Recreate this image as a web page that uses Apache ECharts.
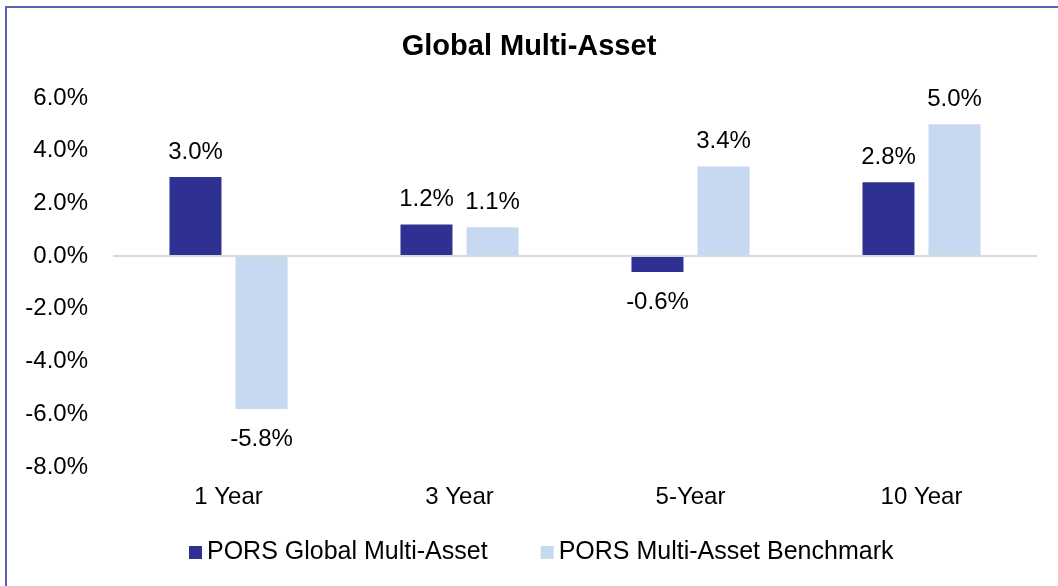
<!DOCTYPE html>
<html>
<head>
<meta charset="utf-8">
<script src="https://cdn.jsdelivr.net/npm/echarts@6/dist/echarts.min.js"></script>
<style>
  html, body { margin: 0; padding: 0; background: #fff; overflow: hidden; }
  #frame { position: absolute; left: 5px; top: 6px; width: 1100px; height: 640px;
           border-left: 2px solid #5b62b3; border-top: 2px solid #5b62b3; }
  #main { position: absolute; left: 0; top: 0; width: 1058px; height: 586px; }
</style>
</head>
<body>
<div id="frame"></div>
<div id="main"></div>
<script>
// chart data
var categories = ['1 Year', '3 Year', '5-Year', '10 Year'];
var porsGlobal = [3.0, 1.2, -0.6, 2.8];
var benchmark = [-5.8, 1.1, 3.4, 5.0];
var seriesNames = ['PORS Global Multi-Asset', 'PORS Multi-Asset Benchmark'];

var font = 'Liberation Sans, Arial, sans-serif';

var labelFmt = function (p) { return p.value.toFixed(1) + '%'; };

function makeSeries(name, data, color) {
    return {
        name: name,
        type: 'bar',
        data: data.map(function (v) {
            // negative bars get their label underneath
            return {
                value: v,
                label: v < 0 ? { position: 'bottom', distance: 18 } : { position: 'top', distance: 13 }
            };
        }),
        barWidth: 52,
        barGap: '27%',
        itemStyle: { color: color },
        label: {
            show: true,
            formatter: labelFmt,
            color: '#000',
            fontSize: 24,
            fontFamily: font
        }
    };
}

var myChart = echarts.init(document.getElementById('main'));
myChart.setOption({
    animation: false,
    title: {
        text: 'Global Multi-Asset',
        left: 'center',
        top: 27,
        textStyle: { fontSize: 29, fontWeight: 'bold', color: '#000', fontFamily: font }
    },
    legend: {
        data: seriesNames,
        top: 535,
        left: 184,
        itemWidth: 13,
        itemHeight: 13,
        itemGap: 53,
        icon: 'rect',
        textStyle: { fontSize: 25, color: '#000', fontFamily: font }
    },
    grid: { left: 113, right: 21, top: 98, bottom: 119, containLabel: false },
    xAxis: {
        type: 'category',
        data: categories,
        axisTick: { show: false },
        axisLine: { show: false },
        axisLabel: { fontSize: 24, color: '#000', fontFamily: font, margin: 18 }
    },
    yAxis: {
        type: 'value',
        min: -8,
        max: 6,
        interval: 2,
        splitLine: { show: false },
        axisLine: { show: false },
        axisTick: { show: false },
        axisLabel: {
            fontSize: 24, color: '#000', fontFamily: font, margin: 25,
            formatter: function (v) { return v.toFixed(1) + '%'; }
        }
    },
    series: [
        makeSeries(seriesNames[0], porsGlobal, '#2e3192'),
        makeSeries(seriesNames[1], benchmark, '#c6d9f0'),
        {
            type: 'line',
            data: [],
            markLine: {
                silent: true,
                symbol: 'none',
                label: { show: false },
                lineStyle: { color: '#d9d9d9', width: 2, type: 'solid' },
                data: [{ yAxis: 0 }]
            }
        }
    ]
});
</script>
</body>
</html>
